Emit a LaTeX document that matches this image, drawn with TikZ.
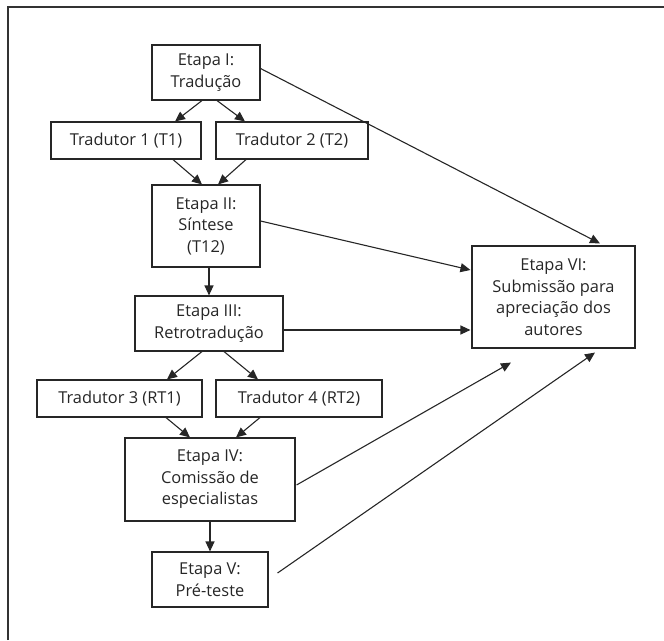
\documentclass[tikz,border=0pt]{standalone}
\usepackage{fontspec}
\setmainfont{Open Sans}
\usetikzlibrary{arrows.meta,calc}
\begin{document}
\begin{tikzpicture}[x=1pt,y=1pt,
  box/.style={draw=black!85,line width=1.1pt,inner sep=0pt,align=center,
    font=\fontsize{16.4}{21.5}\selectfont,text=black!85},
  arr/.style={draw=black!85,line width=1.1pt,-{Triangle[length=10pt,width=9pt]}},
  ln/.style={draw=black!85,line width=1.1pt}]
\useasboundingbox (0,0) rectangle (664,-640);
\draw[line width=1.5pt,black!80] (8,-640) -- (8,-7) -- (664,-7);
\node[box,minimum width=108,minimum height=55] (I) at (206,-72.5) {Etapa I:\\Tradução};
\node[box,minimum width=150,minimum height=37] (T1) at (126,-140.5) {Tradutor 1 (T1)};
\node[box,minimum width=152,minimum height=37] (T2) at (292,-140.5) {Tradutor 2 (T2)};
\node[box,minimum width=108,minimum height=82] (II) at (206,-226) {Etapa II:\\Síntese\\(T12)};
\node[box,minimum width=148,minimum height=55] (III) at (209,-323.5) {Etapa III:\\Retrotradução};
\node[box,minimum width=165,minimum height=37] (T3) at (119.5,-398.5) {Tradutor 3 (RT1)};
\node[box,minimum width=166,minimum height=37] (T4) at (299,-398.5) {Tradutor 4 (RT2)};
\node[box,minimum width=170,minimum height=83] (IV) at (210,-479.5) {Etapa IV:\\Comissão de\\especialistas};
\node[box,minimum width=116,minimum height=55] (V) at (210,-579.5) {Etapa V:\\Pré-teste};
\node[box,minimum width=163,minimum height=102] (VI) at (553.5,-297) {Etapa VI:\\Submissão para\\apreciação dos\\autores};
\draw[arr] ($(I.south)+(-4,0)$) -- ($(T1.north)+(49,0)$);
\draw[arr] ($(I.south)+(11,0)$) -- ($(T2.north)+(-47,0)$);
\draw[arr] ($(T1.south)+(47,0)$) -- ($(II.north)+(-4,0)$);
\draw[arr] ($(T2.south)+(-46,0)$) -- ($(II.north)+(12,0)$);
\draw[arr] (III.north|-II.south) -- (III.north);
\draw[arr] ($(III.south)+(-7,0)$) -- ($(T3.north)+(47.5,0)$);
\draw[arr] ($(III.south)+(15,0)$) -- ($(T4.north)+(-41,0)$);
\draw[arr] ($(T3.south)+(46.5,0)$) -- ($(IV.north)+(-20,0)$);
\draw[arr] ($(T4.south)+(-39,0)$) -- ($(IV.north)+(26,0)$);
\draw[arr] (IV.south) -- (V.north);
\draw[arr] ($(I.east)+(0,4)$) -- ($(VI.north)+(46.5,2)$);
\draw[arr] ($(II.east)+(0,5)$) -- ($(VI.west)+(-1,27)$);
\draw[arr] ($(III.east)+(0,-6.5)$) -- ($(VI.west)+(-1,-33)$);
\draw[arr] ($(IV.east)+(1,-5.5)$) -- ($(VI.south)+(-42.5,-14)$);
\draw[arr] ($(V.east)+(9,6.5)$) -- ($(VI.south)+(41.5,-4)$);
\end{tikzpicture}
\end{document}
